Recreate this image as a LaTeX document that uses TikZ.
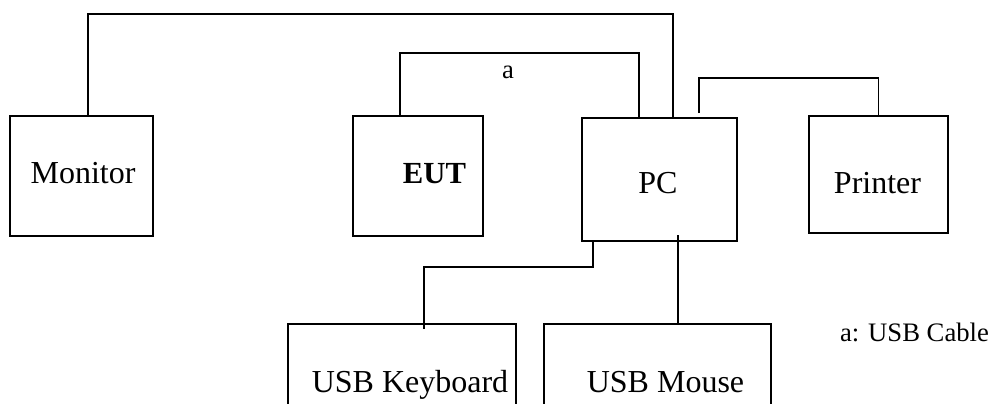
\documentclass[tikz,border=0pt]{standalone}
\usepackage{fontspec}
\setmainfont{Liberation Serif}
\usepackage{tikz}
\usetikzlibrary{calc,
	positioning}

\begin{document}
\begin{tikzpicture}[x=0.75pt,y=-0.75pt]
      \tikzstyle{device}=[draw,rectangle,line width=1.3pt,inner sep=0pt]
      \tikzstyle{cable}=[line width=1.3pt]
      \tikzstyle{lbl}=[anchor=base,inner sep=0pt,font=\fontsize{24}{28}\selectfont]
      \tikzstyle{note}=[anchor=base,inner sep=0pt,font=\fontsize{20}{24}\selectfont]
      \useasboundingbox (0,0) rectangle (991,403);
      \clip (0,0) rectangle (991,403);
      % boxes
      \node[device,minimum width=107.25pt,minimum height=90pt] (monitor) at (81.5,176) {};
      \node[device,minimum width=97.5pt,minimum height=90pt] (eut) at (418,176) {};
      \node[device,minimum width=116.25pt,minimum height=92.25pt] (pc) at (659.5,179.5) {};
      \node[device,minimum width=104.25pt,minimum height=87.75pt] (printer) at (878.5,174.5) {};
      \node[device,minimum width=171pt,minimum height=87pt] (keyboard) at (402,382) {};
      \node[device,minimum width=170.25pt,minimum height=87pt] (mouse) at (657.5,382) {};
      % texts
      \node[lbl] (monitor_t) at (83,183) {Monitor};
      \node[lbl,font=\fontsize{23}{27}\selectfont\bfseries] (eut_t) at (434.5,183) {EUT};
      \node[lbl] (pc_t) at (658,193) {PC};
      \node[lbl] (printer_t) at (877.5,193) {Printer};
      \node[lbl] (keyboard_t) at (410,392) {USB Keyboard};
      \node[lbl] (mouse_t) at (665.5,392) {USB Mouse};
      \node[note] (a_t) at (508,79) {a};
      \node[note] (legend) at (914.5,341) {a: USB Cable};
      % cables
      \coordinate (m_1) at (88,14);
      \coordinate (m_2) at (673,14);
      \coordinate (e_1) at (400,53);
      \coordinate (e_2) at (639,53);
      \coordinate (p_0) at (699,113);
      \coordinate (p_1) at (699,78);
      \coordinate (k_1) at (593,267);
      \coordinate (k_2) at (424,267);
      \coordinate (k_3) at (424,329);
      \coordinate (u_0) at (678,235);
      \draw[cable] (m_1 |- monitor.north) -- (m_1) -- (m_2) -- (m_2 |- pc.north);
      \draw[cable] (e_1 |- eut.north) -- (e_1) -- (e_2) -- (e_2 |- pc.north);
      \draw[cable] (p_0) -- (p_1) -- (printer.north |- p_1) -- (printer.north);
      \draw[cable] (k_1 |- pc.south) -- (k_1) -- (k_2) -- (k_3);
      \draw[cable] (u_0) -- (u_0 |- mouse.north);
    \end{tikzpicture}
\end{document}
